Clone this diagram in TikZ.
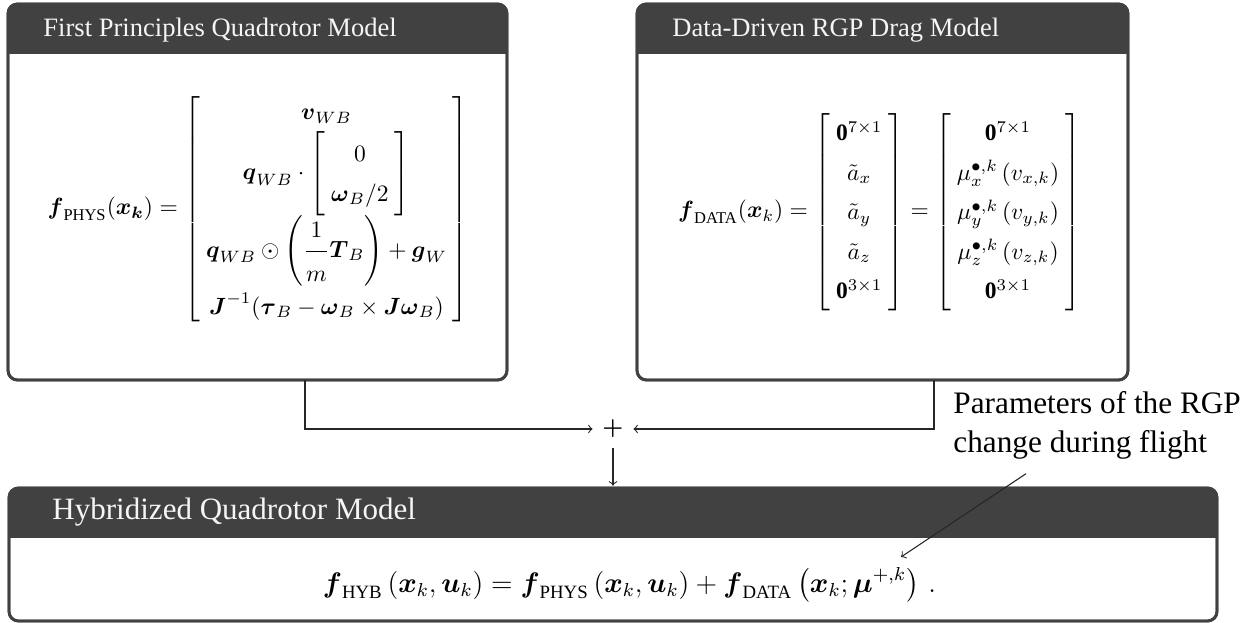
\documentclass[tikz,border=0pt]{standalone}
\usepackage{amsmath,amssymb}
\usepackage{fontspec}
\setmainfont{Liberation Serif}
\usetikzlibrary{calc}
\definecolor{barcol}{RGB}{65,65,65}
\definecolor{titlecol}{RGB}{245,245,245}
\renewcommand{\arraystretch}{1.4}
\setlength{\arraycolsep}{2.5pt}
\newcommand{\mycolvec}[1]{\left[\begin{array}{c}#1\end{array}\right]}
\tikzset{
  panel/.style={draw=barcol, line width=1.2pt, rounded corners=4pt, fill=white, inner sep=0pt, outer sep=0pt},
  bartext/.style={text=titlecol, font=\fontsize{11.3}{14}\selectfont, anchor=base west, inner sep=0pt},
  bigbartext/.style={bartext, font=\fontsize{13.2}{16}\selectfont},
  eqn/.style={inner sep=0pt},
  bigeqn/.style={inner sep=0pt, font=\fontsize{12}{14.4}\selectfont},
  conn/.style={draw=black!85, line width=0.45pt},
  notetext/.style={font=\fontsize{13.3}{16.6}\selectfont, align=left, anchor=north west, inner sep=0pt},
}
\newcommand{\paneltitlebar}[1]{%
  \begin{scope}
    \clip[rounded corners=4pt] (#1.north west) rectangle (#1.south east);
    \fill[barcol] (#1.north west) rectangle ($(#1.north east)+(0,50)$);
  \end{scope}
  \draw[barcol, line width=1.2pt, rounded corners=4pt] (#1.north west) rectangle (#1.south east);
}
\begin{document}
\begin{tikzpicture}[x=0.4255pt, y=-0.4255pt]
\useasboundingbox (0,0) rectangle (1260,623);
\node[panel, minimum width=212.3pt, minimum height=160pt] (phys) at (257.5,192) {};
\node[panel, minimum width=208.9pt, minimum height=160pt] (data) at (882.5,192) {};
\node[panel, minimum width=514pt, minimum height=56.6pt] (hyb) at (613,554.5) {};
\paneltitlebar{phys}
\paneltitlebar{data}
\paneltitlebar{hyb}
\node[bartext] (physT) at (43,37) {First Principles Quadrotor Model};
\node[bartext] (dataT) at (672,37) {Data-Driven RGP Drag Model};
\node[bigbartext] (hybT) at (52,519) {Hybridized Quadrotor Model};
\node[eqn] (physEq) at (258,209) {$\displaystyle \boldsymbol{f}_{\text{PHYS}}(\boldsymbol{x_k}) = \mycolvec{ \boldsymbol{v}_{WB} \\ \boldsymbol{q}_{WB}\cdot\mycolvec{0\\ \boldsymbol{\omega}_B/2} \\ \boldsymbol{q}_{WB}\odot\left(\dfrac{\rule[-4.5pt]{0pt}{13.5pt}1}{\rule{0pt}{11.5pt}m}\boldsymbol{T}_B\right)+\boldsymbol{g}_W \\ \boldsymbol{J}^{-1}(\boldsymbol{\tau}_B - \boldsymbol{\omega}_B\times\boldsymbol{J}\boldsymbol{\omega}_B)}$};
\node[eqn] (dataEq) at (879.5,212) {$\displaystyle \boldsymbol{f}_{\text{DATA}}(\boldsymbol{x}_k) = \mycolvec{\mathbf{0}^{7\times1}\\ \tilde{a}_x\\ \tilde{a}_y\\ \tilde{a}_z\\ \mathbf{0}^{3\times 1}} = \mycolvec{\mathbf{0}^{7\times1}\\ \mu_x^{\bullet,k}\left(v_{x,k}\right)\\ \mu_y^{\bullet,k}\left(v_{y,k}\right)\\ \mu_z^{\bullet,k}\left(v_{z,k}\right)\\ \mathbf{0}^{3\times 1}}$};
\node[bigeqn, anchor=base] (hybEq) at (629.5,592) {$\displaystyle \boldsymbol{f}_{\text{HYB}}\left(\boldsymbol{x}_k,\boldsymbol{u}_k\right) = \boldsymbol{f}_{\text{PHYS}}\left(\boldsymbol{x}_k,\boldsymbol{u}_k\right) + \boldsymbol{f}_{\text{DATA}}\left(\boldsymbol{x}_k;\boldsymbol{\mu}^{+,k}\right)\,.$};
\node[inner sep=4pt] (plus) at (613,429) {$\boldsymbol{+}$};
\draw[conn,->] ($(phys.south)+(47.5,0)$) |- (plus.west);
\draw[conn,->] ($(data.south)+(51.5,0)$) |- (plus.east);
\draw[conn,->, shorten >=1pt] (plus.south) -- (hyb.north);
\node[notetext] (note) at (953,391) {Parameters of the RGP\\change during flight};
\coordinate (ptr) at (901,557);
\draw[conn,->] ($(note.south west)+(73,14)$) -- (ptr);
\end{tikzpicture}
\end{document}
